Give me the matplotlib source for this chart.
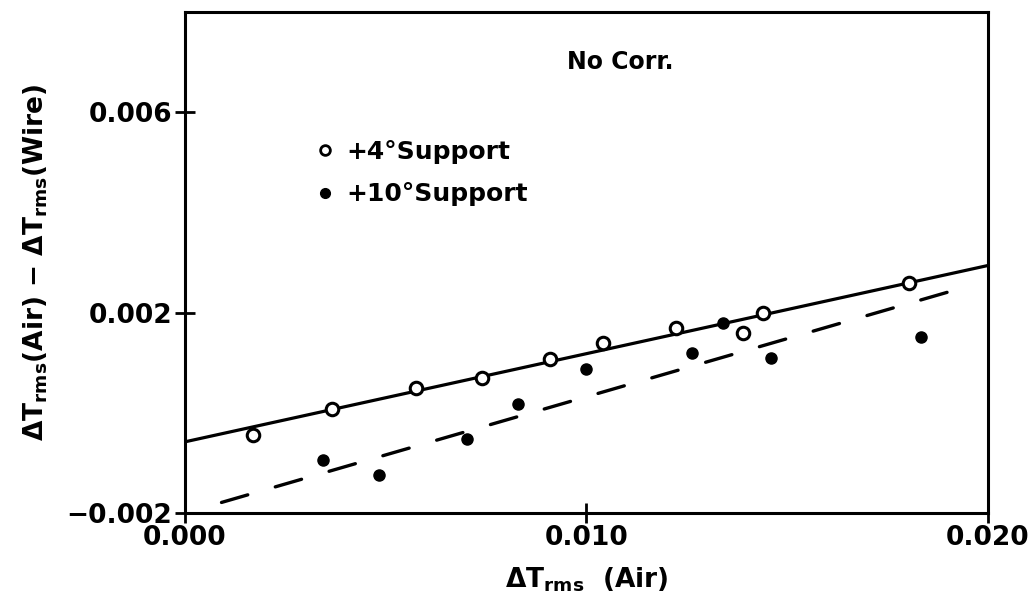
import numpy as np
import matplotlib
matplotlib.use("Agg")
import matplotlib.pyplot as plt
from matplotlib.lines import Line2D

plt.rcParams["font.family"] = "DejaVu Sans"
plt.rcParams["font.weight"] = "bold"
plt.rcParams["axes.labelweight"] = "bold"
plt.rcParams["mathtext.fontset"] = "custom"
plt.rcParams["mathtext.rm"] = "DejaVu Sans:bold"
plt.rcParams["mathtext.default"] = "rm"

# +4 deg support (open circles)
x_4deg = [0.00170, 0.00365, 0.00575, 0.00741, 0.00909, 0.01042, 0.01223, 0.01391, 0.01440, 0.01802]
y_4deg = [-0.00044, 0.00007, 0.00049, 0.00069, 0.00108, 0.00139, 0.00169, 0.00159, 0.00199, 0.00259]

# +10 deg support (filled circles)
x_10deg = [0.00344, 0.00484, 0.00702, 0.00830, 0.00999, 0.01262, 0.01341, 0.01460, 0.01833]
y_10deg = [-0.00094, -0.00124, -0.00052, 0.00017, 0.00088, 0.00119, 0.00179, 0.00109, 0.00151]

# fitted lines (end points)
fit_4deg_x = [0.0, 0.020]
fit_4deg_y = [-0.00058, 0.00294]
fit_10deg_x = [0.00091, 0.01918]
fit_10deg_y = [-0.00179, 0.00245]

xticks = [0.000, 0.010, 0.020]
yticks = [-0.002, 0.002, 0.006]

fig = plt.figure(figsize=(10.31, 6.08), dpi=100)
ax = fig.add_axes([0.1794, 0.1563, 0.9583 - 0.1794, 0.9803 - 0.1563])

ax.plot(fit_4deg_x, fit_4deg_y, color="black", lw=2.3, solid_capstyle="butt")
ax.plot(fit_10deg_x, fit_10deg_y, color="black", lw=2.4, dashes=(8.2, 8.6),
        dash_capstyle="round")

ax.plot(x_4deg, y_4deg, "o", ms=9, mfc="white", mec="black", mew=2.2, zorder=3)
ax.plot(x_10deg, y_10deg, "o", ms=8, mfc="black", mec="black", zorder=3)

ax.set_xlim(0.0, 0.020)
ax.set_ylim(-0.002, 0.008)
ax.set_xticks(xticks)
ax.set_yticks(yticks)
ax.set_xticklabels([f"{v:.3f}" for v in xticks])
ax.set_yticklabels([f"{v:.3f}".replace("-", "\u2212") for v in yticks])
ax.tick_params(direction="inout", length=14, width=2, labelsize=19, pad=2)
for s in ax.spines.values():
    s.set_linewidth(2.2)

ax.set_xlabel("\u0394T$_{\\mathrm{rms}}$  (Air)", fontsize=19, labelpad=10)
ax.set_ylabel("\u0394T$_{\\mathrm{rms}}$(Air) \u2212 \u0394T$_{\\mathrm{rms}}$(Wire)",
              fontsize=19, labelpad=12)

ax.text(0.542, 0.90, "No Corr.", transform=ax.transAxes, ha="center", va="center",
        fontsize=17)

handles = [
    Line2D([], [], ls="none", marker="o", ms=7, mfc="white", mec="black", mew=2),
    Line2D([], [], ls="none", marker="o", ms=7, mfc="black", mec="black"),
]
ax.legend(handles, ["+4°Support", "+10°Support"], loc="upper left",
          bbox_to_anchor=(0.15, 0.77), frameon=False, fontsize=18,
          handlelength=0.6, handletextpad=0.55, labelspacing=0.75, borderpad=0)

fig.savefig("out.png", dpi=100)
